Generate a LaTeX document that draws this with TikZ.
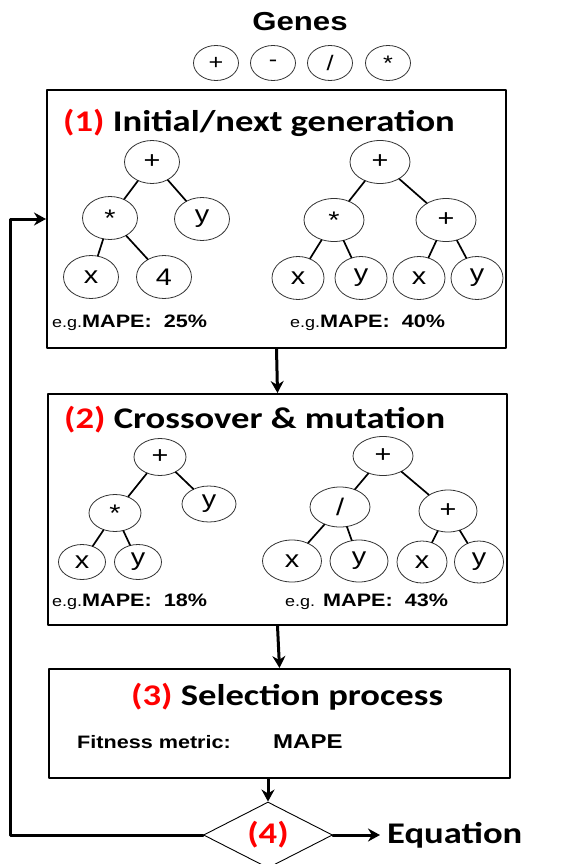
\documentclass[tikz,border=0pt]{standalone}
\usepackage{fontspec}
\setmainfont{Liberation Sans}[FakeStretch=1.2]
\newfontfamily\headfont{Carlito}[FakeStretch=1.22]
\usetikzlibrary{shapes.geometric,arrows.meta}

\begin{document}
\begin{tikzpicture}[x=1pt,y=-1pt,>={Stealth[length=12pt,width=13pt]}, line join=round, line cap=round,
	gene/.style={ellipse,draw=black!80,line width=0.8pt,inner sep=0pt,minimum width=45pt,minimum height=35pt,font=\fontsize{21}{21}\selectfont},
	tn/.style={ellipse,draw=black!80,line width=0.8pt,inner sep=0pt,minimum width=55pt,minimum height=43pt,font=\fontsize{24}{24}\selectfont},
	stepbox/.style={draw,line width=2pt,inner sep=0pt},
	edge/.style={line width=1.7pt},
	flow/.style={->,line width=3pt},
	head/.style={font=\headfont\bfseries\fontsize{30}{30}\selectfont,inner sep=0pt,anchor=west},
	score/.style={font=\bfseries\fontsize{18}{18}\selectfont,inner sep=0pt,anchor=west}]
	\useasboundingbox (0,0) rectangle (574,864);
	
	% [Genes - Layer 1]
	\node[font=\bfseries\fontsize{26}{26}\selectfont] (genes) at (300,22) {Genes};
	\node[gene] (g1) at (216,63) {+};
	\node[gene] (g2) at (273,63) {-};
	\node[gene] (g3) at (330,63) {/};
	\node[gene] (g4) at (388,63) {*};
	
	% [Khung - Layer 2]
	\node[stepbox,minimum width=459pt,minimum height=258pt] (box1) at (276.5,219) {};
	\node[stepbox,minimum width=459pt,minimum height=231pt] (box2) at (277.5,509.5) {};
	\node[stepbox,minimum width=461pt,minimum height=109pt] (box3) at (279.5,723.5) {};
	\node[diamond,draw,line width=0.9pt,inner sep=0pt,aspect=2,minimum width=129pt,minimum height=66pt] (dec) at (268,835) {};
	
	% [Tieu de - Layer 3]
	\node[head] (t1) at (63,123) {\textcolor{red}{(1)} Initial/next generation};
	\node[head] (t2) at (64,420) {\textcolor{red}{(2)} Crossover \& mutation};
	\node[head] (t3) at (131,697) {\textcolor{red}{(3)} Selection process};
	\node[head,anchor=center,text=red] (t4) at (268,835) {(4)};
	\node[head] (eq) at (387,835) {Equation};
	
	% [Cay 1 - Layer 4]
	\node[tn] (a0) at (152,162) {+};
	\node[tn] (a1) at (110,218) {*};
	\node[tn] (a2) at (202,219) {y};
	\node[tn] (a3) at (91,277) {x};
	\node[tn] (a4) at (164,277) {4};
	\draw[edge] (a0)--(a1) (a0)--(a2) (a1)--(a3) (a1)--(a4);
	
	\node[tn,minimum width=60pt] (b0) at (380,162) {+};
	\node[tn,minimum width=60pt] (b1) at (334,220) {*};
	\node[tn,minimum width=60pt] (b2) at (446,220) {+};
	\node[tn,minimum width=52pt] (b3) at (298,278) {x};
	\node[tn,minimum width=52pt] (b4) at (361,278) {y};
	\node[tn,minimum width=52pt] (b5) at (419,278) {x};
	\node[tn,minimum width=52pt] (b6) at (477,278) {y};
	\draw[edge] (b0)--(b1) (b0)--(b2) (b1)--(b3) (b1)--(b4) (b2)--(b5) (b2)--(b6);
	
	\node[score] (m1) at (52,323) {{\mdseries\fontsize{15}{15}\selectfont e.g.}MAPE:~~25\%};
	\node[score] (m2) at (290,323) {{\mdseries\fontsize{15}{15}\selectfont e.g.}MAPE:~~40\%};
	
	% [Cay 2 - Layer 5]
	\node[tn,minimum width=52pt,minimum height=37pt] (c0) at (160,457) {+};
	\node[tn,minimum width=52pt,minimum height=37pt] (c1) at (115,513) {*};
	\node[tn,minimum width=54pt,minimum height=36pt] (c2) at (209,504) {y};
	\node[tn,minimum width=47pt,minimum height=35pt] (c3) at (82,562) {x};
	\node[tn,minimum width=47pt,minimum height=35pt] (c4) at (138,562) {y};
	\draw[edge] (c0)--(c1) (c0)--(c2) (c1)--(c3) (c1)--(c4);
	
	\node[tn,minimum width=60pt,minimum height=39pt] (d0) at (383,456) {+};
	\node[tn,minimum width=60pt,minimum height=40pt] (d1) at (340,507) {/};
	\node[tn,minimum width=58pt,minimum height=42pt] (d2) at (448,511) {+};
	\node[tn,minimum width=59pt,minimum height=42pt] (d3) at (292,561) {x};
	\node[tn,minimum width=58pt,minimum height=42pt] (d4) at (359,561) {y};
	\node[tn,minimum width=50pt,minimum height=42pt] (d5) at (422,562) {x};
	\node[tn,minimum width=49pt,minimum height=42pt] (d6) at (479,562) {y};
	\draw[edge] (d0)--(d1) (d0)--(d2) (d1)--(d3) (d1)--(d4) (d2)--(d5) (d2)--(d6);
	
	\node[score] (m3) at (52,602) {{\mdseries\fontsize{15}{15}\selectfont e.g.}MAPE:~~18\%};
	\node[score] (m4) at (285,602) {{\mdseries\fontsize{15}{15}\selectfont e.g.} MAPE:~~43\%};
	
	% [Chon loc - Layer 6]
	\node[score] (fit) at (77,742) {Fitness metric:};
	\node[score,font=\bfseries\fontsize{20}{20}\selectfont] (fitm) at (273,742) {MAPE};
	
	% [Mui ten - Layer 7]
	\coordinate (back) at (10,835);
	\draw[flow] (box1.south) -- (box2.north);
	\draw[flow] (box2.south) -- (box3.north);
	\draw[flow] (dec.north |- box3.south) -- (dec.north);
	\draw[flow] (dec.west) -- (back) |- (box1.west);
	\draw[flow] (dec.east) -- ([xshift=-7pt]eq.west);
\end{tikzpicture}
\end{document}
